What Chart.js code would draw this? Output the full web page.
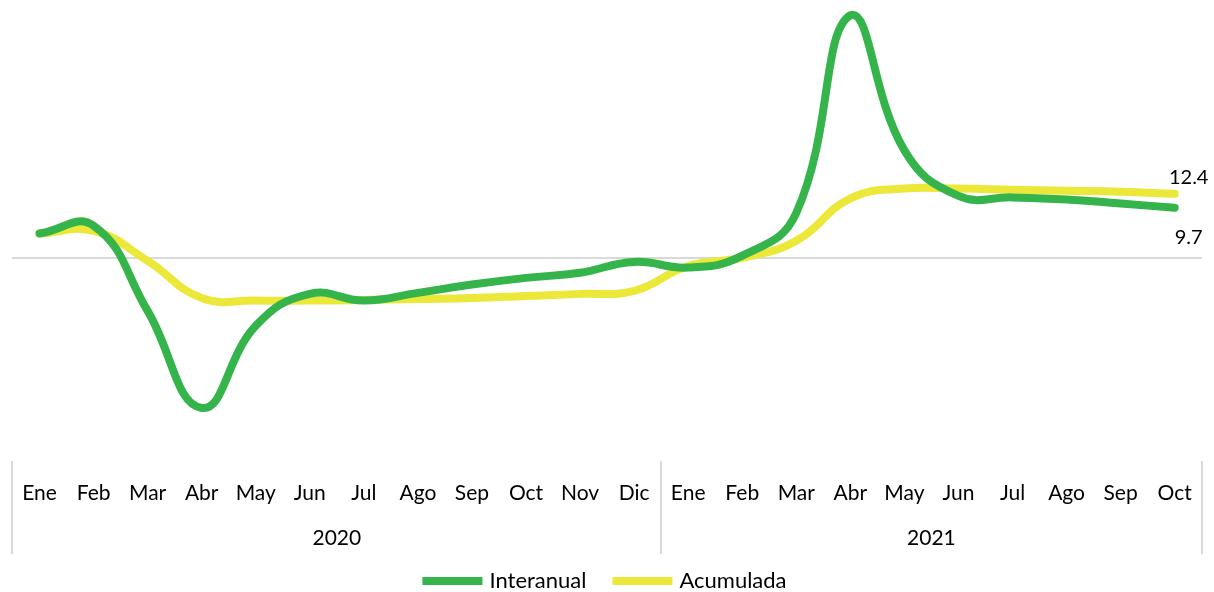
<!DOCTYPE html>
<html>
<head>
<meta charset="utf-8">
<script src="https://cdn.jsdelivr.net/npm/chart.js@4.4.0/dist/chart.umd.min.js"></script>
<style>
  html, body { margin: 0; padding: 0; background: #fff; }
  #wrap { width: 1214px; height: 592px; }
</style>
</head>
<body>
<div id="wrap"><canvas id="c"></canvas></div>
<script>
// months shown on the axis, two years
var months = ["Ene","Feb","Mar","Abr","May","Jun","Jul","Ago","Sep","Oct","Nov","Dic",
              "Ene","Feb","Mar","Abr","May","Jun","Jul","Ago","Sep","Oct"];
var years = ["2020", "2021"];
var yearSizes = [12, 10];

// variación interanual (%)
var interanual = [4.7, 6.2, -10.3, -29.1, -13.2, -7.0, -8.3, -6.8, -5.2, -3.9, -2.9, -0.8,
                  -1.9, 0.4, 8.7, 47.0, 20.8, 12.0, 11.7, 11.3, 10.5, 9.7];
// variación acumulada (%)
var acumulada = [4.7, 5.2, -0.6, -7.8, -8.3, -8.3, -8.2, -8.0, -7.8, -7.4, -7.0, -6.4,
                 -1.6, 0.0, 3.3, 11.5, 13.4, 13.4, 13.2, 13.0, 12.8, 12.4];

var FONT = "Lato, 'Liberation Sans', sans-serif";
var GREEN = "#34B44A";
var YELLOW = "#EBE83A";

// year row + separators under the month labels
var yearAxis = {
  id: "yearAxis",
  afterDraw: function(chart) {
    var ctx = chart.ctx, x = chart.scales.x;
    var half = (x.getPixelForValue(1) - x.getPixelForValue(0)) / 2;
    var top = chart.chartArea.bottom + 2, bottom = top + 93;
    ctx.save();
    ctx.strokeStyle = "#D9D9D9";
    ctx.lineWidth = 2;
    ctx.font = "21px " + FONT;
    ctx.fillStyle = "#000";
    ctx.textAlign = "center";
    ctx.textBaseline = "middle";
    var start = 0;
    var edges = [x.getPixelForValue(0) - half];
    for (var i = 0; i < years.length; i++) {
      var end = start + yearSizes[i] - 1;
      var l = x.getPixelForValue(start) - half, r = x.getPixelForValue(end) + half;
      edges.push(r);
      ctx.fillText(years[i], (l + r) / 2, top + 77);
      start = end + 1;
    }
    edges.forEach(function(e) {
      ctx.beginPath();
      ctx.moveTo(Math.round(e), top);
      ctx.lineTo(Math.round(e), bottom);
      ctx.stroke();
    });
    ctx.restore();
  }
};

// value labels on the last point only
var endLabels = {
  id: "endLabels",
  afterDatasetsDraw: function(chart) {
    var ctx = chart.ctx;
    ctx.save();
    ctx.font = "20px " + FONT;
    ctx.fillStyle = "#000";
    ctx.textAlign = "center";
    ctx.textBaseline = "middle";
    chart.data.datasets.forEach(function(ds, di) {
      var meta = chart.getDatasetMeta(di);
      var n = ds.data.length - 1;
      var pt = meta.data[n];
      var dy = di === 0 ? 30 : -16;
      ctx.fillText(ds.data[n].toFixed(1), pt.x + 14, pt.y + dy);
    });
    ctx.restore();
  }
};

new Chart(document.getElementById("c"), {
  type: "line",
  data: {
    labels: months,
    datasets: [{
      label: "Interanual",
      data: interanual,
      borderColor: GREEN,
      backgroundColor: GREEN,
      borderWidth: 8,
      borderCapStyle: "round",
      pointRadius: 0,
      tension: 0.45,
      clip: false
    }, {
      label: "Acumulada",
      data: acumulada,
      borderColor: YELLOW,
      backgroundColor: YELLOW,
      borderWidth: 8,
      borderCapStyle: "round",
      pointRadius: 0,
      tension: 0.45,
      clip: false
    }]
  },
  options: {
    responsive: true,
    maintainAspectRatio: false,
    animation: false,
    layout: { padding: { left: 10, right: 11, top: 8, bottom: -10 } },
    plugins: {
      tooltip: { enabled: false },
      legend: {
        position: "bottom",
        labels: {
          // the 8px dataset border is stroked round the box, so keep the box itself thin
          boxWidth: 52,
          boxHeight: 0.1,
          useBorderRadius: true,
          borderRadius: 4,
          color: "#000",
          font: { family: FONT, size: 22 },
          padding: 30
        }
      }
    },
    scales: {
      x: {
        offset: true,
        grid: { display: false, drawTicks: false },
        border: { display: false },
        ticks: {
          color: "#000",
          font: { family: FONT, size: 21 },
          padding: 22,
          maxRotation: 0,
          autoSkip: false
        },
        afterFit: function(scale) { scale.height = 81; }
      },
      y: {
        display: true,
        min: -39,
        max: 48.4,
        ticks: { display: false, stepSize: 100 },
        border: { display: false },
        grid: {
          drawTicks: false,
          color: function(c) { return c.tick.value === 0 ? "#D9D9D9" : "rgba(0,0,0,0)"; },
          lineWidth: 2
        },
        afterBuildTicks: function(scale) { scale.ticks = [{ value: 0 }]; },
        afterFit: function(scale) { scale.width = 0; }
      }
    }
  },
  plugins: [yearAxis, endLabels]
});
</script>
</body>
</html>
